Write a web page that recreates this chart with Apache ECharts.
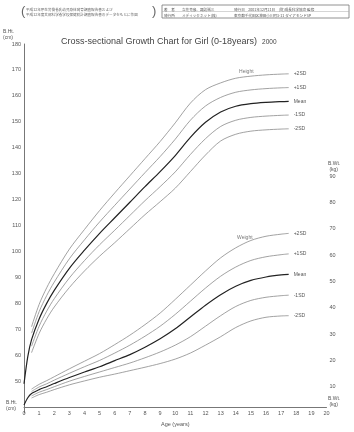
<!DOCTYPE html>
<html><head><meta charset="utf-8">
<script src="https://cdn.jsdelivr.net/npm/echarts@6/dist/echarts.min.js"></script>
<style>html,body{margin:0;padding:0;background:#fff}#c{width:354px;height:432px}</style>
</head><body><div id="c"></div>
<script>
// ---- data ----
const meanAges = [0, 0.25, 0.5, 1, 1.5, 2, 3, 4, 5, 6, 7, 8, 9, 10, 11, 12, 13, 14, 15, 16, 17, 17.5];
const sdAges = [0.5, 1, 1.5, 2, 3, 4, 5, 6, 7, 8, 9, 10, 11, 12, 13, 14, 15, 16, 17, 17.5];
const heightMean = [49.0, 59.5, 66.0, 74.0, 80.0, 85.0, 93.5, 100.5, 107.0, 113.0, 119.0, 125.0, 130.8, 137.0, 144.0, 149.8, 153.8, 156.0, 157.0, 157.5, 157.8, 157.9];
const heightP2 = [71.0, 79.6, 86.0, 91.4, 100.9, 108.5, 115.8, 122.6, 129.2, 135.8, 142.4, 149.6, 157.2, 162.4, 165.0, 166.8, 167.6, 168.1, 168.4, 168.5];
const heightP1 = [68.5, 76.8, 83.0, 88.2, 97.2, 104.5, 111.4, 117.8, 124.1, 130.4, 136.6, 143.3, 150.6, 156.1, 159.4, 161.4, 162.3, 162.8, 163.1, 163.2];
const heightM1 = [63.5, 71.2, 77.0, 81.8, 89.8, 96.5, 102.6, 108.2, 113.9, 119.6, 125.0, 130.7, 137.4, 143.5, 148.2, 150.6, 151.7, 152.2, 152.5, 152.6];
const heightM2 = [61.0, 68.4, 74.0, 78.6, 86.1, 92.5, 98.2, 103.4, 108.8, 114.2, 119.2, 124.4, 130.8, 137.2, 142.6, 145.2, 146.4, 146.9, 147.2, 147.3];
const weightMean = [3.0, 5.8, 7.4, 8.9, 10.0, 11.2, 13.5, 15.6, 17.6, 19.9, 22.2, 25.0, 28.2, 32.0, 36.5, 41.0, 45.0, 48.2, 50.4, 51.7, 52.5, 52.7];
const weightP2 = [9.1, 10.9, 12.3, 13.8, 16.8, 19.7, 22.6, 26.0, 29.6, 33.6, 38.0, 43.2, 48.6, 54.0, 59.0, 62.8, 65.6, 67.2, 68.0, 68.3];
const weightP1 = [8.2, 9.9, 11.1, 12.5, 15.1, 17.6, 20.0, 22.8, 25.8, 29.2, 33.0, 37.5, 42.5, 47.5, 52.0, 55.5, 58.0, 59.4, 60.2, 60.5];
const weightM1 = [6.5, 7.9, 8.9, 10.0, 12.1, 13.9, 15.6, 17.3, 19.0, 21.0, 23.2, 25.8, 29.0, 33.0, 37.0, 40.5, 42.8, 44.0, 44.6, 44.8];
const weightM2 = [5.7, 7.0, 7.9, 8.9, 10.7, 12.2, 13.6, 14.8, 16.1, 17.4, 18.8, 20.5, 22.8, 25.8, 29.0, 32.5, 35.0, 36.4, 36.9, 37.0];
const sdNames = ['+2SD', '+1SD', 'Mean', '-1SD', '-2SD'];
const heightLabel = ['Height', 14.7, 167.4];
const weightLabel = ['Weight', 14.6, 64.9];
const ageTicks = [0, 20, 1];      // min, max, interval
const heightTicks = [40, 180, 10];
const weightTicks = [0, 100, 10];

// ---- chart ----
const FONT = 'Liberation Sans, Arial, sans-serif';
const TXT = '#555';
const pair = (xs, ys) => xs.map((x, i) => [x, ys[i]]);
function curve(name, xs, ys, grid, isMean) {
  return {
    type: 'line', name: name, xAxisIndex: grid, yAxisIndex: grid,
    data: pair(xs, ys), smooth: 0.3, showSymbol: false, silent: true,
    lineStyle: { color: isMean ? '#222' : '#8a8a8a', width: isMean ? 1.2 : 0.8 },
    endLabel: { show: true, formatter: name, fontSize: 5, color: TXT, fontFamily: FONT, distance: 5 }
  };
}
function tag(t, grid) {
  return {
    type: 'scatter', xAxisIndex: grid, yAxisIndex: grid, symbolSize: 1, silent: true,
    itemStyle: { color: 'rgba(0,0,0,0)' },
    data: [[t[1], t[2]]],
    label: { show: true, formatter: t[0], position: 'top', distance: 2, fontSize: 5, color: TXT, fontFamily: FONT }
  };
}
const hSeries = [heightP2, heightP1, heightMean, heightM1, heightM2];
const wSeries = [weightP2, weightP1, weightMean, weightM1, weightM2];
const series = [];
hSeries.forEach((d, i) => series.push(curve(sdNames[i], i === 2 ? meanAges : sdAges, d, 0, i === 2)));
wSeries.forEach((d, i) => series.push(curve(sdNames[i], i === 2 ? meanAges : sdAges, d, 1, i === 2)));
series.push(tag(heightLabel, 0), tag(weightLabel, 1));

const axisLine = { show: true, lineStyle: { color: '#777', width: 1 } };
const chart = echarts.init(document.getElementById('c'), null, { renderer: 'canvas' });
chart.setOption({
  animation: false,
  backgroundColor: '#fff',
  textStyle: { fontFamily: FONT },
  grid: [
    { left: 24, right: 27.5, top: 44, bottom: 19 },
    { left: 24, right: 27.5, top: 150, bottom: 19 }
  ],
  xAxis: [
    { type: 'value', gridIndex: 0, min: ageTicks[0], max: ageTicks[1], interval: ageTicks[2],
      axisLine: axisLine, axisTick: { show: false }, splitLine: { show: false },
      axisLabel: { fontSize: 5.5, color: TXT, margin: 3 },
      name: 'Age (years)', nameLocation: 'middle', nameGap: 10, nameTextStyle: { fontSize: 5.5, color: TXT } },
    { type: 'value', gridIndex: 1, min: ageTicks[0], max: ageTicks[1], interval: ageTicks[2], show: false }
  ],
  yAxis: [
    { type: 'value', gridIndex: 0, min: heightTicks[0], max: heightTicks[1], interval: heightTicks[2],
      axisLine: axisLine, axisTick: { show: false }, splitLine: { show: false },
      axisLabel: { fontSize: 5.5, color: TXT, margin: 3, formatter: v => v === heightTicks[0] ? '' : String(v) } },
    { type: 'value', gridIndex: 1, position: 'right', min: weightTicks[0], max: weightTicks[1], interval: weightTicks[2],
      axisLine: axisLine, axisTick: { show: false }, splitLine: { show: false },
      axisLabel: { fontSize: 5.5, color: TXT, margin: 3, formatter: v => (v === weightTicks[0] || v === weightTicks[1]) ? '' : String(v) } }
  ],
  title: {
    text: '{a|Cross-sectional Growth Chart for Girl (0-18years)} {b|2000}',
    left: 56, top: 28,
    textStyle: { fontWeight: 'normal', rich: {
      a: { fontSize: 9, color: '#444', fontFamily: FONT, fontWeight: 'normal' },
      b: { fontSize: 6.5, color: '#444', fontFamily: FONT, fontWeight: 'normal' }
    } }
  },
  graphic: [
    { type: 'text', left: 3, top: 29, style: { text: 'B.Ht.\n(cm)', fontSize: 5, lineHeight: 6, fill: TXT, fontFamily: FONT } },
    { type: 'text', left: 6, top: 400, style: { text: 'B.Ht.\n(cm)', fontSize: 5, lineHeight: 6, fill: TXT, fontFamily: FONT } },
    { type: 'text', left: 328, top: 161, style: { text: 'B.Wt.\n (kg)', fontSize: 5, lineHeight: 6, fill: TXT, fontFamily: FONT } },
    { type: 'text', left: 328, top: 396, style: { text: 'B.Wt.\n (kg)', fontSize: 5, lineHeight: 6, fill: TXT, fontFamily: FONT } },
    { type: 'text', left: 21, top: 5, style: { text: '(', fontSize: 13, fill: '#666', fontFamily: FONT } },
    { type: 'text', left: 26, top: 7, style: { text: '平成12年厚生労働省乳幼児身体発育調査報告書および\n平成12年度文部科学省学校保健統計調査報告書のデータをもとに作図', fontSize: 3.6, lineHeight: 5, fill: '#666', fontFamily: 'Noto Sans CJK JP' } },
    { type: 'text', left: 152, top: 5, style: { text: ')', fontSize: 13, fill: '#666', fontFamily: FONT } },
    { type: 'rect', shape: { x: 162, y: 5, width: 187, height: 13 }, style: { fill: 'none', stroke: '#777', lineWidth: 0.8 } },
    { type: 'line', shape: { x1: 162, y1: 11.5, x2: 349, y2: 11.5 }, style: { stroke: '#aaa', lineWidth: 0.5 } },
    { type: 'text', left: 164, top: 6, style: { text: '著　者\n発行所', fontSize: 3.6, lineHeight: 6.5, fill: '#555', fontFamily: 'Noto Sans CJK JP' } },
    { type: 'text', left: 182, top: 6, style: { text: '立花克彦、諏訪珹三\nメディックネット(株)', fontSize: 3.6, lineHeight: 6.5, fill: '#555', fontFamily: 'Noto Sans CJK JP' } },
    { type: 'text', left: 234, top: 6, style: { text: '発行日　2001年12月21日　(財)成長科学協会 監修\n東京都千代田区神田小川町3-11 ダイアモンドSP', fontSize: 3.6, lineHeight: 6.5, fill: '#555', fontFamily: 'Noto Sans CJK JP' } }
  ],
  series: series
});
</script></body></html>
